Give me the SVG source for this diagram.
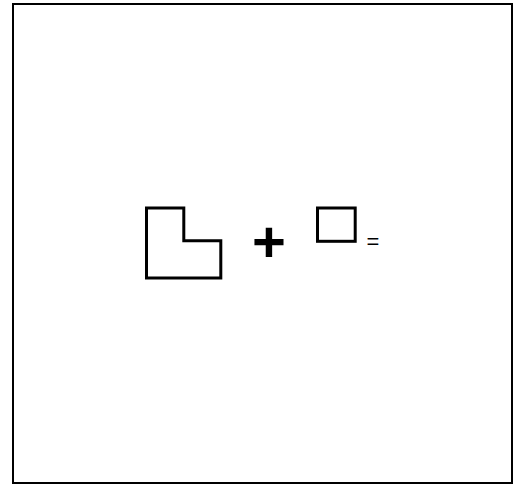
<svg xmlns="http://www.w3.org/2000/svg" width="517" height="485" viewBox="0 0 517 485">
<style>
.shape{fill:none;stroke:#000;stroke-width:3;stroke-linejoin:miter}
.frame{fill:#fff;stroke:#000;stroke-width:2}
.op{font-family:"Liberation Sans",Arial,sans-serif;fill:#000}
</style>
<rect class="frame" x="13" y="4" width="499" height="479"/>
<g id="l-shape">
<path class="shape" d="M146.5,208 H183.8 V240.8 H220.8 V278 H146.5 Z"/>
</g>
<g id="plus">
<text class="op" x="269" y="262" font-size="58" font-weight="bold" text-anchor="middle">+</text>
</g>
<g id="square">
<rect class="shape" x="317.5" y="208" width="37.7" height="33.3"/>
</g>
<g id="equals">
<text class="op" x="373" y="249" font-size="22" text-anchor="middle">=</text>
</g>
<g id="connectors"/>
</svg>
